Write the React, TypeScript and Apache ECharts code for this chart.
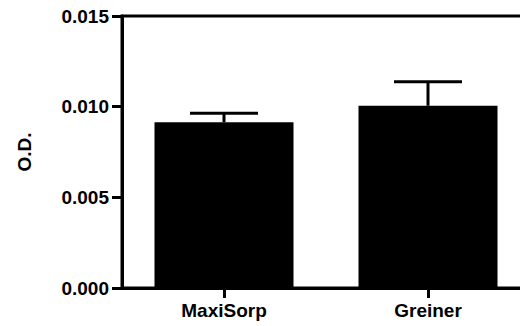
import React, { useEffect, useRef } from "react";
import * as echarts from "echarts";

const categories = ["MaxiSorp", "Greiner"];
const means = [0.00914, 0.01005];
const errors = [0.0005, 0.00133];
const yTicks = { min: 0, max: 0.015, interval: 0.005 };
const yTitle = "O.D.";

export default function App() {
  const ref = useRef<HTMLDivElement>(null);
  useEffect(() => {
    if (!ref.current) return;
    const chart = echarts.init(ref.current, null, { renderer: "svg" });
    const font = "'Liberation Sans', Arial, sans-serif";
    chart.setOption({
      animation: false,
      grid: {
        left: 122,
        top: 16,
        width: 408,
        bottom: 38,
        show: true,
        borderColor: "#000",
        borderWidth: 3,
        backgroundColor: "transparent",
        outerBoundsMode: "none",
      },
      xAxis: {
        type: "category",
        data: categories,
        axisLine: { show: true, lineStyle: { color: "#000", width: 3 } },
        axisTick: { show: true, alignWithLabel: true, length: 10, lineStyle: { color: "#000", width: 3 } },
        axisLabel: { color: "#000", fontWeight: "bold", fontSize: 19, fontFamily: font, margin: 13 },
        splitLine: { show: false },
      },
      yAxis: {
        type: "value",
        min: yTicks.min,
        max: yTicks.max,
        interval: yTicks.interval,
        name: yTitle,
        nameLocation: "middle",
        nameRotate: 90,
        nameGap: 88,
        nameTextStyle: { color: "#000", fontWeight: "bold", fontSize: 19, fontFamily: font },
        axisLine: { show: true, lineStyle: { color: "#000", width: 3 } },
        axisTick: { show: true, length: 10, lineStyle: { color: "#000", width: 3 } },
        axisLabel: {
          color: "#000",
          fontWeight: "bold",
          fontSize: 19,
          fontFamily: font,
          margin: 13,
          formatter: (v: number) => v.toFixed(3),
        },
        splitLine: { show: false },
      },
      series: [
        {
          type: "bar",
          data: means,
          barWidth: 139,
          itemStyle: { color: "#000" },
        },
        {
          type: "custom",
          data: means.map((m, i) => [i, m, m + errors[i]]),
          renderItem: (params: any, api: any) => {
            const i = api.value(0);
            const base = api.coord([i, api.value(1)]);
            const top = api.coord([i, api.value(2)]);
            const half = 34;
            return {
              type: "group",
              children: [
                {
                  type: "line",
                  shape: { x1: base[0], y1: base[1], x2: top[0], y2: top[1] },
                  style: { stroke: "#000", lineWidth: 3 },
                },
                {
                  type: "line",
                  shape: { x1: top[0] - half, y1: top[1], x2: top[0] + half, y2: top[1] },
                  style: { stroke: "#000", lineWidth: 3 },
                },
              ],
            };
          },
          z: 3,
        },
      ],
    });
    return () => chart.dispose();
  }, []);
  return (
    <div
      style={{ position: "fixed", left: 0, top: 0, width: 520, height: 326, overflow: "hidden", background: "#fff" }}
    >
      <div ref={ref} style={{ width: 560, height: 326 }} />
    </div>
  );
}
